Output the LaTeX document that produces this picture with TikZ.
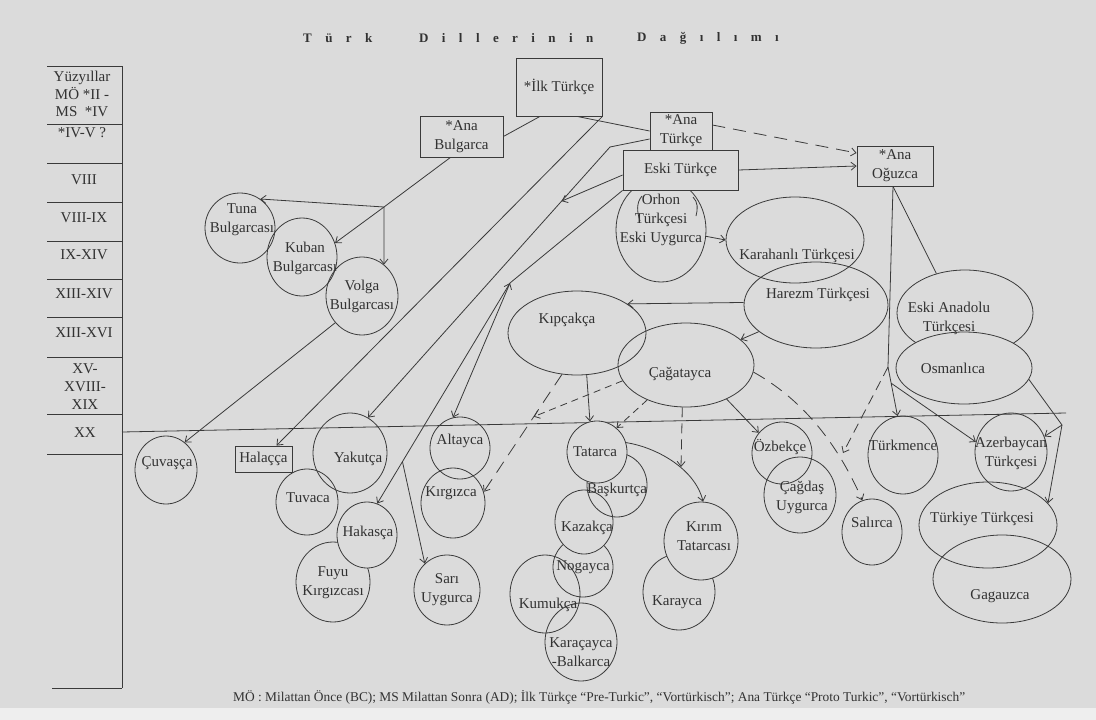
\documentclass[tikz,border=0pt]{standalone}
\usepackage{fontspec}
\setmainfont{Liberation Serif}
\usetikzlibrary{shapes.geometric,arrows.meta,calc}
\definecolor{paper}{RGB}{219,219,219}
\definecolor{paperlow}{RGB}{238,238,238}
\definecolor{ink}{RGB}{58,58,58}
\definecolor{txt}{RGB}{50,50,50}
\newcommand\lblfont{\fontsize{15}{19}\selectfont}
\newcommand\ttlfont{\fontsize{13}{15}\selectfont\bfseries}
\newcommand\notefont{\fontsize{13.4}{15}\selectfont}
\newcommand\gap{\hspace{13.4pt}}
\tikzset{
  ln/.style={draw=ink,line width=0.8pt},
  tip/.style={-{Straight Barb[length=5pt,width=8pt]}},
  tips/.style={{Straight Barb[length=5pt,width=8pt]}-{Straight Barb[length=5pt,width=8pt]}},
  longdash/.style={dash pattern=on 13pt off 8pt},
  middash/.style={dash pattern=on 10pt off 6pt},
  shortdash/.style={dash pattern=on 7pt off 5pt},
  sz/.style 2 args={minimum width=2*#1,minimum height=2*#2},
  bub/.style={ellipse,draw=ink,line width=0.8pt,inner sep=0pt},
  bubf/.style={bub,fill=paper},
  box/.style={rectangle,draw=ink,line width=0.8pt,fill=paper,inner sep=0pt,align=center,font=\lblfont,text=txt},
  lbl/.style={align=center,font=\lblfont,inner sep=0pt,text=txt},
  ttl/.style={font=\ttlfont,anchor=west,text=txt,inner sep=0pt},
}
\begin{document}
\begin{tikzpicture}[x=1pt,y=-1pt]
% page
\useasboundingbox (0,0) rectangle (1096,720);
\fill[paper] (0,0) rectangle (1096,708);
\fill[paperlow] (0,708) rectangle (1096,720);

% title
\node[ttl] (ttl1) at (303,38) {T\gap ü\gap r\gap k};
\node[ttl] (ttl2) at (419,38) {D\gap i\gap l\gap l\gap e\gap r\gap i\gap n\gap i\gap n};
\node[ttl] (ttl3) at (637,38) {D\gap a\gap ğ\gap ı\gap l\gap ı\gap m\gap ı};

% century column
\draw[ln] (122,66) -- (122,688);
\foreach \yy in {66,124,163,202,241,279,317,357,414,454}
  \draw[ln] (47,\yy) -- (122,\yy);
\draw[ln] (52,688) -- (122,688);
\node[lbl,font=\fontsize{15}{17.5}\selectfont] (c0) at (82,94) {Yüzyıllar\\MÖ *II -\\MS\ \ *IV};
\node[lbl] (c1) at (82,133) {*IV-V ?};
\node[lbl] (c2) at (84,180) {VIII};
\node[lbl] (c3) at (84,218) {VIII-IX};
\node[lbl] (c4) at (84,255) {IX-XIV};
\node[lbl] (c5) at (84,294) {XIII-XIV};
\node[lbl] (c6) at (84,333) {XIII-XVI};
\node[lbl,font=\fontsize{15}{18}\selectfont] (c7) at (85,387) {XV-\\XVIII-\\XIX};
\node[lbl] (c8) at (85,433) {XX};

% twentieth century line
\draw[ln] (122,432) -- (1066,413);

% Bulgar branch
\node[bub,sz={35}{35}] (tuna) at (240,228) {};
\node[bub,sz={35}{39}] (kuban) at (302,257) {};
\node[bub,sz={36}{39}] (volga) at (362,296) {};
\node[bub,sz={31}{34}] (cuvas) at (166,470) {};

% Siberian group
\node[bub,sz={37}{40}] (yakut) at (350,453) {};
\node[bub,sz={31}{33}] (tuvac) at (307,502) {};
\node[bub,sz={37}{40}] (fuyu) at (333,582) {};
\node[bubf,sz={30}{33}] (hakas) at (367,535) {};
\node[bub,sz={30}{31}] (altay) at (460,448) {};
\node[bub,sz={32}{35}] (kirgiz) at (453,503) {};
\node[bub,sz={33}{35}] (sari) at (447,590) {};

% Old Turkic and Middle Turkic
\node[bub,sz={45}{52}] (eskiuyg) at (661,230) {};
\node[bub,sz={69}{43}] (karahan) at (795,240) {};
\node[bub,sz={72}{43}] (harezm) at (816,305) {};
\node[bub,sz={69}{42}] (kipcak) at (577,333) {};
\node[bub,sz={68}{42}] (cagat) at (686,365) {};

% Kipchak group
\node[bub,sz={30}{30}] (nogay) at (583,567) {};
\node[bubf,sz={29}{32}] (kazak) at (584,522) {};
\node[bub,sz={30}{32}] (baskurt) at (617,485) {};
\node[bubf,sz={30}{31}] (tatar) at (597,452) {};
\node[bub,sz={35}{39}] (kumuk) at (545,594) {};
\node[bub,sz={36}{39}] (karacay) at (581,642) {};
\node[bub,sz={36}{38}] (karay) at (679,592) {};
\node[bubf,sz={37}{39}] (kirim) at (701,541) {};

% Karluk group
\node[bub,sz={30}{31}] (ozbek) at (782,453) {};
\node[bub,sz={36}{38}] (cagdas) at (800,495) {};
\node[bub,sz={30}{33}] (salir) at (872,532) {};

% Oghuz group
\node[bub,sz={35}{39}] (turkmen) at (903,455) {};
\node[bub,sz={36}{39}] (azer) at (1011,452) {};
\node[bub,sz={68}{43}] (eskiana) at (965,313) {};
\node[bubf,sz={68}{36}] (osman) at (964,368) {};
\node[bub,sz={69}{43}] (turkiye) at (988,525) {};
\node[bub,sz={69}{44}] (gagauz) at (1002,579) {};

% inner outline of Orhon Turkic
\draw[ln] (642,196) .. controls (636,203) and (637,212) .. (640,221);
\draw[ln] (693,197) .. controls (698,202) and (698,209) .. (696,216);

% boxes
\node[box,minimum width=86,minimum height=58] (ilk) at (559,87) {*İlk Türkçe};
\node[box,minimum width=83,minimum height=41] (anabulg) at (461.5,136.5) {*Ana\\Bulgarca};
\node[box,minimum width=62,minimum height=38] (anaturk) at (681,131) {*Ana\\Türkçe};
\node[box,minimum width=115,minimum height=40] (eski) at (680.5,170) {Eski Türkçe};
\node[box,minimum width=76,minimum height=40] (oguz) at (895,166) {*Ana\\Oğuzca};
\node[box,minimum width=57,minimum height=26] (halac) at (263.5,459) {Halaçça};

% connectors: Bulgar branch
\coordinate (q) at (384,207);
\draw[ln] ($(ilk.south)+(-19,0)$) -- (anabulg.east);
\draw[ln] ($(anabulg.south)+(-11,0)$) -- (q);
\draw[ln,tip] (q) -- (tuna.55);
\draw[ln,tip] (q) -- (kuban.23);
\draw[ln,tip] (q) -- (volga.55);
\draw[ln,tip] (volga.225) -- (cuvas.56);

% connectors: Common Turkic
\draw[ln] ($(ilk.south)+(18,0)$) -- (anaturk.west);
\draw[ln,tip] (ilk.south east) -- ($(halac.north)+(13,0)$);
\coordinate (bend) at (610,147);
\draw[ln,tip] ($(anaturk.west)+(0,8)$) -- (bend) -- (yakut.63);
\draw[ln,tip] ($(eski.west)+(0,5)$) -- ($(bend)!0.2!(yakut.63)$);
\coordinate (j) at (510,283);
\draw[ln,tip] (eski.south west) -- (j) -- (hakas.72);
\draw[ln,tips] (j) -- (altay.103);
\draw[ln,tip] ($(j)!0.81!(hakas.72)$) -- (sari.130);
\draw[ln,tip] (eski.east) -- (oguz.west);
\draw[ln,longdash,tip] ($(anaturk.east)+(0,-6)$) -- ($(oguz.west)+(0,-13)$);
\draw[ln,tip] (eskiuyg.-8) -- (karahan.180);

% connectors: Middle Turkic
\draw[ln,tip] (harezm.178) -- (kipcak.30);
\draw[ln,tip] (harezm.205) -- (cagat.25);
\draw[ln,tip] (kipcak.-77) -- (tatar.103);
\draw[ln,longdash,tip] (kipcak.-110) -- (kirgiz.20);
\draw[ln,shortdash,tip] (cagat.194) -- ($(kipcak.-110)!0.36!(kirgiz.20)$);
\draw[ln,shortdash,tip] (cagat.222) -- (tatar.51);
\coordinate (kt) at (681,467);
\draw[ln,middash,tip] (cagat.-95) -- (kt);
\draw[ln,tip] (tatar.18) .. controls (655,447) and (695,468) .. (kirim.87);
\draw[ln,tip] (cagat.-40) -- (ozbek.139);
\draw[ln,longdash,tip] (cagat.-6) .. controls (800,398) and (836,440) .. (salir.107);

% connectors: Oghuz
\coordinate (k) at (888,367);
\draw[ln] ($(oguz.south)+(-2,0)$) -- (eskiana.126);
\draw[ln,tip] ($(oguz.south)+(-2,0)$) -- (k) -- (turkmen.98);
\draw[ln,tip] ($(k)!0.33!(turkmen.98)$) -- (azer.164);
\coordinate (kd) at (843,453);
\draw[ln,middash,tip] (k) -- (kd);
\coordinate (m) at (1062,425);
\draw[ln] (osman.-10) -- (m);
\draw[ln,tip] (m) -- (azer.25);
\draw[ln,tip] (m) -- (turkiye.20);

% labels
\node[lbl] (tuna-t) at (242,220) {Tuna\\Bulgarcası};
\node[lbl] (kuban-t) at (305,258) {Kuban\\Bulgarcası};
\node[lbl] (volga-t) at (362,296) {Volga\\Bulgarcası};
\node[lbl] (cuvas-t) at (167,463) {Çuvaşça};
\node[lbl] (yakut-t) at (358,459) {Yakutça};
\node[lbl] (tuvac-t) at (308,498) {Tuvaca};
\node[lbl] (hakas-t) at (368,533) {Hakasça};
\node[lbl] (fuyu-t) at (333,583) {Fuyu\\Kırgızcası};
\node[lbl] (altay-t) at (460,441) {Altayca};
\node[lbl] (kirgiz-t) at (451,493) {Kırgızca};
\node[lbl] (sari-t) at (447,590) {Sarı\\Uygurca};
\node[lbl] (orhon-t) at (661,220) {Orhon\\Türkçesi\\Eski Uygurca};
\node[lbl] (karahan-t) at (797,256) {Karahanlı Türkçesi};
\node[lbl] (harezm-t) at (818,295) {Harezm Türkçesi};
\node[lbl] (kipcak-t) at (567,320) {Kıpçakça};
\node[lbl] (cagat-t) at (680,374) {Çağatayca};
\node[lbl] (tatar-t) at (595,452) {Tatarca};
\node[lbl] (baskurt-t) at (617,490) {Başkurtça};
\node[lbl] (kazak-t) at (587,528) {Kazakça};
\node[lbl] (nogay-t) at (583,567) {Nogayca};
\node[lbl] (kumuk-t) at (548,605) {Kumukça};
\node[lbl] (karacay-t) at (581,652) {Karaçayca\\-Balkarca};
\node[lbl] (kirim-t) at (704,536) {Kırım\\Tatarcası};
\node[lbl] (karay-t) at (677,602) {Karayca};
\node[lbl] (ozbek-t) at (780,447) {Özbekçe};
\node[lbl] (cagdas-t) at (802,497) {Çağdaş\\Uygurca};
\node[lbl] (salir-t) at (872,522) {Salırca};
\node[lbl] (turkmen-t) at (903,445) {Türkmence};
\node[lbl] (azer-t) at (1011,453) {Azerbaycan\\Türkçesi};
\node[lbl] (eskiana-t) at (949,318) {Eski Anadolu\\Türkçesi};
\node[lbl] (osman-t) at (953,368) {Osmanlıca};
\node[lbl] (turkiye-t) at (982,519) {Türkiye Türkçesi};
\node[lbl] (gagauz-t) at (1000,596) {Gagauzca};

% note
\node[font=\notefont,anchor=west,inner sep=0pt,text=txt] (note) at (233,697)
  {MÖ : Milattan Önce (BC); MS Milattan Sonra (AD); İlk Türkçe “Pre-Turkic”, “Vortürkisch”; Ana Türkçe “Proto Turkic”, “Vortürkisch”};
\end{tikzpicture}
\end{document}
